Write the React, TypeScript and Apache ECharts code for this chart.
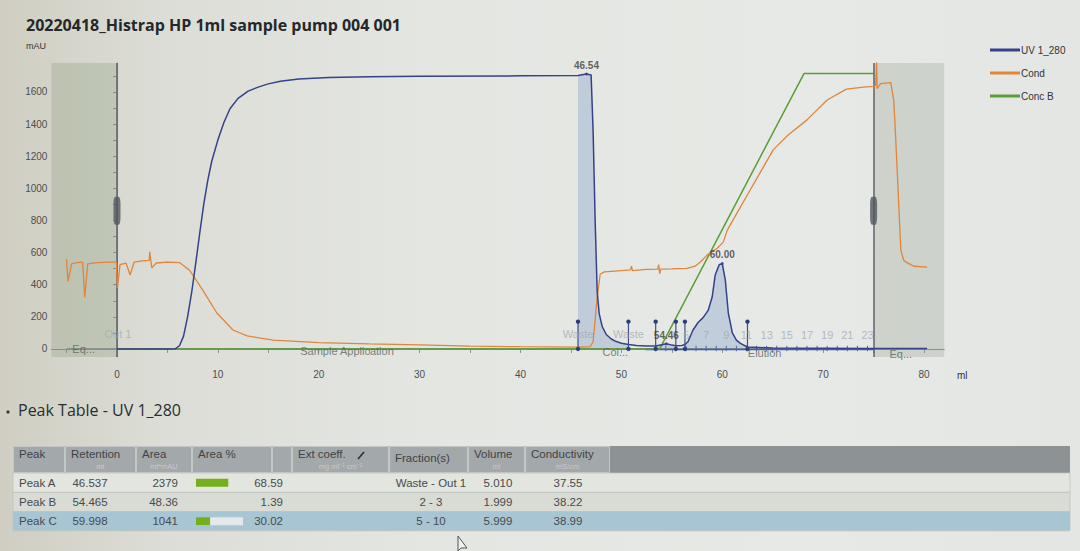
import React, { useEffect, useRef } from "react";
import * as echarts from "echarts";

const titleText = "20220418_Histrap HP 1ml sample pump 004 001";

// UV 1_280 (mAU)
const uvPoints: [number, number][] = [
  [0, 0], [5, 0], [5.8, 2], [6.2, 20], [6.6, 80], [7.0, 200], [7.4, 350], [7.8, 530], [8.2, 720],
  [8.6, 900], [9.0, 1050], [9.4, 1170], [10, 1300], [10.6, 1410], [11.2, 1495], [12, 1560],
  [13, 1605], [14, 1630], [15, 1650], [16.2, 1667], [18, 1680], [21, 1690], [25, 1695],
  [30, 1698], [40, 1700], [45.7, 1702], [46.54, 1712], [47.0, 1705], [47.2, 1350], [47.4, 800],
  [47.6, 360], [47.8, 220], [48.1, 140], [48.5, 90], [49, 62], [49.5, 46], [50, 36], [50.7, 28],
  [51.5, 22], [52.5, 18], [53.4, 18], [54, 26], [54.46, 32], [55, 24], [55.4, 20], [56, 22],
  [56.3, 28], [56.6, 45], [57.1, 118], [57.6, 165], [58.1, 195], [58.6, 240], [59.0, 323],
  [59.3, 460], [59.7, 525], [60.0, 532], [60.3, 430], [60.6, 224], [61.0, 100], [61.4, 55],
  [61.8, 35], [62.5, 12], [65, 6], [70, 4], [75, 3], [80.3, 3],
];

// Cond (drawn on the mAU scale)
const condPoints: [number, number][] = [
  [-5, 560], [-4.85, 420], [-4.5, 530], [-4, 538], [-3.4, 540], [-3.2, 320], [-2.9, 530],
  [-2, 538], [-0.5, 540], [-0.05, 540], [0.05, 380], [0.3, 525], [0.9, 535], [1.3, 460],
  [1.7, 540], [2.5, 548], [3.2, 552], [3.25, 605], [3.45, 505], [3.9, 535], [5, 540],
  [6.2, 538], [7.2, 490], [8.5, 366], [9.9, 224], [11.5, 118], [12.9, 81], [15.5, 55],
  [20, 40], [25, 32], [30, 25], [35, 18], [40, 14], [45.7, 12], [46.9, 14], [47.2, 45],
  [47.6, 323], [47.9, 465], [48.3, 480], [50, 488], [50.9, 492], [51.0, 515], [51.1, 488],
  [52.5, 495], [53.6, 497], [53.7, 525], [53.8, 468], [53.9, 497], [55, 498], [56.5, 502],
  [57.3, 515], [57.8, 540], [58.5, 584], [59.5, 627], [60.1, 665], [60.5, 740], [61.5, 850],
  [62.5, 960], [63.5, 1070], [65.05, 1239], [66.5, 1330], [68.4, 1426], [70.4, 1550],
  [72.3, 1617], [74, 1630], [75, 1635], [75.2, 1640], [75.3, 1785], [75.35, 1620],
  [75.7, 1652], [76.7, 1658], [77.0, 1547], [77.2, 1300], [77.4, 1031], [77.7, 615],
  [78.0, 550], [78.4, 534], [79, 515], [80.3, 509],
];

// Conc B (100 % drawn at ~1714 on the mAU scale)
const concBPoints: [number, number][] = [[0, 0], [53.8, 0], [68.1, 1714], [75, 1714]];

// Peaks
const peakNames = ["Peak A", "Peak B", "Peak C"];
const peakRetention = ["46.537", "54.465", "59.998"];
const peakArea = ["2379", "48.36", "1041"];
const peakAreaPct = [68.59, 1.39, 30.02];
const peakFractions = ["Waste - Out 1", "2 - 3", "5 - 10"];
const peakVolume = ["5.010", "1.999", "5.999"];
const peakConductivity = ["37.55", "38.22", "38.99"];
const peakStart = [45.7, 53.4, 56.3];
const peakEnd = [50.7, 55.4, 62.5];
const peakLabelX = [46.54, 54.46, 60.0];
const peakLabelY = [1712, 32, 532];
const peakLabelText = ["46.54", "54.46", "60.00"];

// Fractions
const fractionStarts = [53.4, 54.4, 55.4, 56.4, 57.4, 58.4, 59.4, 60.4, 61.4, 62.4, 63.4, 64.4,
  65.4, 66.4, 67.4, 68.4, 69.4, 70.4, 71.4, 72.4, 73.4, 74.4];
const fractionLabelX = [56.4, 58.4, 60.4, 62.4, 64.4, 66.4, 68.4, 70.4, 72.4, 74.4];
const fractionLabelText = ["5", "7", "9", "11", "13", "15", "17", "19", "21", "23"];
const eventLabelX = [0.1, 45.7, 50.7];
const eventLabelText = ["Out 1", "Waste", "Waste"];

// Phases
const phaseText = ["Eq...", "Sample Application", "Col...", "Elution", "Eq..."];
const phaseX = [-3.3, 22.8, 49.4, 64.2, 77.7];
const phaseY = [0, -12, -18, -24, -30];

// Axis ticks
const yLabels = [0, 200, 400, 600, 800, 1000, 1200, 1400, 1600];
const yTicks = [0, 100, 200, 300, 400, 500, 600, 700, 800, 900, 1000, 1100, 1200, 1300, 1400, 1500, 1600, 1700];
const xLabels = [0, 10, 20, 30, 40, 50, 60, 70, 80];
const xTicks = [-5, 0, 5, 10, 15, 20, 25, 30, 35, 40, 45, 50, 55, 60, 65, 70, 75, 80];

const UV = "#34428a";
const COND = "#e0853a";
const CONCB = "#5a9e36";
const FONT = "'Liberation Sans', Arial, sans-serif";

function slice(pts: [number, number][], a: number, b: number) {
  return pts.filter((p) => p[0] >= a && p[0] <= b);
}

function buildTable(): any[] {
  const els: any[] = [];
  const left = 13, right = 1070, hTop = 446, hH = 27;
  const rowTops = [473, 492.5, 511.5];
  const rowH = 19.3;
  const rowFill = ["#e3e5df", "#d9dcd5", "#a8c5d4"];
  const cols = [
    { x: 13, w: 52, t: "Peak", u: "" },
    { x: 65, w: 71, t: "Retention", u: "ml" },
    { x: 136, w: 56, t: "Area", u: "ml*mAU" },
    { x: 192, w: 80, t: "Area %", u: "" },
    { x: 272, w: 20, t: "", u: "" },
    { x: 292, w: 97, t: "Ext coeff.", u: "mg ml\u207B\u00B9 cm\u207B\u00B9" },
    { x: 389, w: 79, t: "Fraction(s)", u: "" },
    { x: 468, w: 57, t: "Volume", u: "ml" },
    { x: 525, w: 85, t: "Conductivity", u: "mS/cm" },
  ];
  els.push({ type: "rect", shape: { x: left, y: hTop, width: right - left, height: hH }, style: { fill: "#8d9294" } });
  cols.forEach((c) => {
    els.push({ type: "rect", shape: { x: c.x + 0.5, y: hTop + 0.5, width: c.w - 1, height: hH - 1 }, style: { fill: "#a3a8aa", stroke: "#c3c7c8", lineWidth: 1 } });
    if (c.t) {
      const single = !c.u;
      els.push({ type: "text", x: c.x + 6, y: single ? hTop + (c.t === "Fraction(s)" ? 12 : 8) : hTop + 8, style: { text: c.t, fontSize: 11.5, fontFamily: FONT, fill: "#3e4347", textVerticalAlign: "middle" } });
    }
    if (c.u) {
      els.push({ type: "text", x: c.x + c.w / 2, y: hTop + 20, style: { text: c.u, fontSize: 7.5, fontFamily: FONT, fill: "#c7cbcc", textAlign: "center", textVerticalAlign: "middle" } });
    }
  });
  // pencil icon
  els.push({ type: "line", shape: { x1: 358, y1: 459, x2: 364, y2: 452 }, style: { stroke: "#2b2f33", lineWidth: 1.6 } });

  peakNames.forEach((name, i) => {
    const top = rowTops[i];
    const cy = top + rowH / 2;
    els.push({ type: "rect", shape: { x: left, y: top, width: right - left, height: rowH }, style: { fill: rowFill[i], stroke: "#bfc3bf", lineWidth: 0.8 } });
    const txt = (t: string, x: number, align: string) => ({
      type: "text", x, y: cy, style: { text: t, fontSize: 11.5, fontFamily: FONT, fill: "#464b50", textAlign: align, textVerticalAlign: "middle" },
    });
    els.push(txt(name, 19, "left"));
    els.push(txt(peakRetention[i], 90, "center"));
    els.push(txt(peakArea[i], 178, "right"));
    const full = 47;
    const w = (full * peakAreaPct[i]) / 100;
    if (i === 2) {
      els.push({ type: "rect", shape: { x: 196, y: cy - 4, width: full, height: 8 }, style: { fill: "#e4e8ea" } });
    }
    if (w > 3) {
      els.push({ type: "rect", shape: { x: 196, y: cy - 4, width: w, height: 8 }, style: { fill: "#74b01e" } });
    }
    els.push(txt(peakAreaPct[i].toFixed(2), 283, "right"));
    els.push(txt(peakFractions[i], 431, "center"));
    els.push(txt(peakVolume[i], 498, "center"));
    els.push(txt(peakConductivity[i], 568, "center"));
  });
  return els;
}

export default function App() {
  const ref = useRef<HTMLDivElement>(null);
  useEffect(() => {
    if (!ref.current) return;
    const chart = echarts.init(ref.current, null, { renderer: "svg" });

    const fillStyle = { color: "rgba(105,140,195,0.42)", origin: 0 };
    const fillSeries = peakStart.map((s, i) => ({
      name: "fill" + i,
      type: "line",
      data: slice(uvPoints, s, peakEnd[i]),
      showSymbol: false,
      symbol: "none",
      lineStyle: { width: 0 },
      areaStyle: fillStyle,
      silent: true,
      z: 1,
    }));

    const option: any = {
      animation: false,
      backgroundColor: "transparent",
      title: {
        text: titleText,
        left: 21,
        top: 12,
        textStyle: { fontSize: 16, fontWeight: "bold", color: "#25282a", fontFamily: "'Open Sans', sans-serif" },
      },
      legend: {
        orient: "vertical",
        left: 985,
        top: 40,
        icon: "rect",
        itemWidth: 30,
        itemHeight: 3,
        itemGap: 13,
        data: ["UV 1_280", "Cond", "Conc B"],
        textStyle: { fontSize: 10, color: "#333", fontFamily: FONT, padding: [0, 0, 0, -4] },
      },
      grid: { left: 51.4, right: 135.8, top: 63, bottom: 194, containLabel: false },
      xAxis: {
        type: "value",
        min: -6.5,
        max: 82,
        axisLine: { show: true, lineStyle: { color: "#8c918c", width: 1 } },
        axisTick: { show: true, length: 4, customValues: xTicks, lineStyle: { color: "#8c918c" } },
        axisLabel: { customValues: xLabels, color: "#4a4e52", fontSize: 10, fontFamily: FONT, margin: 12, formatter: (v: number) => String(v) },
        splitLine: { show: false },
      },
      yAxis: {
        type: "value",
        min: -50,
        max: 1780,
        axisLine: { show: true, lineStyle: { color: "#8c918c", width: 1 } },
        axisTick: { show: true, length: 4, customValues: yTicks, lineStyle: { color: "#8c918c" } },
        axisLabel: { customValues: yLabels, color: "#4a4e52", fontSize: 10, fontFamily: FONT, margin: 4, formatter: (v: number) => String(v) },
        splitLine: { show: false },
      },
      graphic: [
        { type: "text", left: 26, top: 41, style: { text: "mAU", fontSize: 9, fontFamily: FONT, fill: "#333" } },
        { type: "text", left: 957, top: 370, style: { text: "ml", fontSize: 10, fontFamily: FONT, fill: "#333" } },
        { type: "circle", shape: { cx: 8, cy: 412, r: 1.6 }, style: { fill: "#333" } },
        { type: "text", left: 18, top: 402, style: { text: "Peak Table - UV 1_280", fontSize: 16, fontFamily: "'Open Sans', sans-serif", fill: "#2a2e32" } },
        { type: "group", children: buildTable() },
        { type: "polygon", shape: { points: [[458, 536], [458, 551], [461, 548], [467, 548]] }, style: { fill: "#eef0f0", stroke: "#555", lineWidth: 1 } },
      ],
      series: [
        {
          name: "phase",
          type: "line",
          data: [[-5, 3], [80.3, 3]],
          symbol: "none",
          lineStyle: { color: "#8d9496", width: 1.2 },
          silent: true,
          z: 1,
          markArea: {
            silent: true,
            data: [
              [{ xAxis: -6.5, itemStyle: { color: "rgba(125,145,110,0.26)" } }, { xAxis: 0 }],
              [{ xAxis: 75, itemStyle: { color: "rgba(140,146,132,0.26)" } }, { xAxis: 82 }],
            ],
          },
          markLine: {
            silent: true,
            symbol: "none",
            label: { show: false },
            lineStyle: { color: "#5e656c", width: 1.5, type: "solid" },
            data: [{ xAxis: 0 }, { xAxis: 75 }],
          },
        },
        {
          name: "fractionLine",
          type: "line",
          data: [[52.4, -4], [75, -4]],
          symbol: "none",
          lineStyle: { color: "#3e5ea8", width: 1.5 },
          silent: true,
          z: 2,
        },
        {
          name: "fractionTicks",
          type: "custom",
          data: fractionStarts.map((x) => [x, 0]),
          encode: { x: 0, y: 1 },
          silent: true,
          z: 3,
          renderItem: (params: any, api: any) => {
            const x = api.value(0);
            const a = api.coord([x, -14]);
            const b = api.coord([x, 20]);
            return { type: "line", shape: { x1: a[0], y1: a[1], x2: b[0], y2: b[1] }, style: { stroke: "#4c68a8", lineWidth: 1 } };
          },
        },
        ...fillSeries,
        {
          name: "Conc B",
          type: "line",
          data: concBPoints,
          symbol: "none",
          color: CONCB,
          lineStyle: { color: CONCB, width: 1.5 },
          z: 4,
        },
        {
          name: "Cond",
          type: "line",
          data: condPoints,
          symbol: "none",
          color: COND,
          lineStyle: { color: COND, width: 1.3 },
          z: 5,
        },
        {
          name: "UV 1_280",
          type: "line",
          data: uvPoints,
          symbol: "none",
          color: UV,
          lineStyle: { color: UV, width: 1.5 },
          z: 6,
        },
        {
          name: "pins",
          type: "custom",
          data: [...peakStart, ...peakEnd].map((x) => [x, 170]),
          encode: { x: 0, y: 1 },
          silent: true,
          z: 7,
          renderItem: (params: any, api: any) => {
            const x = api.value(0);
            const h = api.value(1);
            const b = api.coord([x, 0]);
            const t = api.coord([x, h]);
            return {
              type: "group",
              children: [
                { type: "line", shape: { x1: b[0], y1: b[1], x2: t[0], y2: t[1] }, style: { stroke: "#3a4f8a", lineWidth: 1.2 } },
                { type: "circle", shape: { cx: t[0], cy: t[1], r: 2.2 }, style: { fill: "#2d3f78" } },
                { type: "circle", shape: { cx: b[0], cy: b[1], r: 2.2 }, style: { fill: "#2d3f78" } },
              ],
            };
          },
        },
        {
          name: "peakLabels",
          type: "scatter",
          data: peakLabelX.map((x, i) => ({ value: [x, peakLabelY[i]], name: peakLabelText[i] })),
          symbolSize: 3,
          itemStyle: { color: UV },
          silent: true,
          z: 8,
          label: { show: true, position: "top", distance: 2, formatter: "{b}", fontSize: 10, fontWeight: "bold", color: "#3a3d40", fontFamily: FONT },
        },
        {
          name: "fractionLabels",
          type: "scatter",
          data: [
            ...fractionLabelX.map((x, i) => ({ value: [x, 87], name: fractionLabelText[i] })),
            ...eventLabelX.map((x, i) => ({ value: [x, 95], name: eventLabelText[i] })),
          ],
          symbolSize: 0,
          silent: true,
          z: 8,
          label: { show: true, position: "inside", formatter: "{b}", fontSize: 11, color: "#a3abb4", fontFamily: FONT },
        },
        {
          name: "phaseLabels",
          type: "scatter",
          data: phaseX.map((x, i) => ({ value: [x, phaseY[i]], name: phaseText[i] })),
          symbolSize: 0,
          silent: true,
          z: 8,
          label: { show: true, position: "inside", formatter: "{b}", fontSize: 11, color: "#59625c", fontFamily: FONT },
        },
        {
          name: "handles",
          type: "scatter",
          data: [[0, 860], [75, 860]],
          symbol: "roundRect",
          symbolSize: [7, 28],
          itemStyle: { color: "#51575e" },
          silent: true,
          z: 9,
        },
      ],
    };
    chart.setOption(option);
    return () => chart.dispose();
  }, []);

  return (
    <div
      ref={ref}
      style={{
        position: "fixed",
        left: 0,
        top: 0,
        width: 1080,
        height: 551,
        background: "linear-gradient(90deg, #d0cec2 0%, #dcddd6 15%, #e4e6e2 40%, #e7e9e6 75%, #e3e6e3 100%)",
      }}
    />
  );
}
